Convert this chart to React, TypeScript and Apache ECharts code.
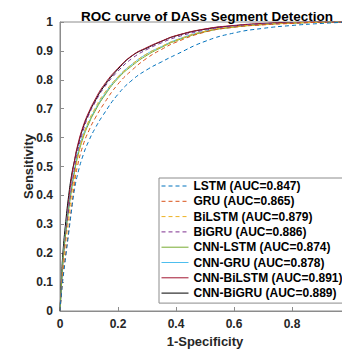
import React, { useEffect, useRef } from "react";
import * as echarts from "echarts";

const fpr = [0, 0.005, 0.01, 0.02, 0.03, 0.04, 0.05, 0.06, 0.08, 0.1, 0.12, 0.15, 0.2, 0.25, 0.3, 0.35, 0.4, 0.5, 0.6, 0.7, 0.8, 0.9, 1.0];

const lstm = [0, 0.06, 0.11, 0.19, 0.27, 0.35, 0.42, 0.47, 0.54, 0.59, 0.63, 0.68, 0.75, 0.8, 0.835, 0.862, 0.887, 0.933, 0.962, 0.978, 0.988, 0.995, 1];
const gru = [0, 0.06, 0.12, 0.2, 0.28, 0.36, 0.44, 0.5, 0.575, 0.625, 0.665, 0.715, 0.785, 0.835, 0.875, 0.905, 0.93, 0.965, 0.982, 0.99, 0.995, 0.999, 1];
const bilstm = [0, 0.07, 0.14, 0.24, 0.32, 0.4, 0.465, 0.525, 0.605, 0.66, 0.7, 0.75, 0.81, 0.855, 0.89, 0.915, 0.937, 0.968, 0.983, 0.991, 0.996, 0.999, 1];
const bigru = [0, 0.08, 0.15, 0.26, 0.35, 0.43, 0.495, 0.55, 0.625, 0.68, 0.72, 0.77, 0.83, 0.875, 0.905, 0.928, 0.947, 0.972, 0.986, 0.993, 0.997, 1, 1];
const cnnLstm = [0, 0.09, 0.17, 0.27, 0.35, 0.42, 0.48, 0.53, 0.6, 0.65, 0.69, 0.74, 0.805, 0.85, 0.885, 0.912, 0.935, 0.966, 0.982, 0.991, 0.996, 0.999, 1];
const cnnGru = [0, 0.09, 0.17, 0.28, 0.36, 0.43, 0.49, 0.54, 0.61, 0.655, 0.695, 0.745, 0.81, 0.855, 0.89, 0.915, 0.938, 0.968, 0.983, 0.992, 0.996, 0.999, 1];
const cnnBilstm = [0, 0.09, 0.17, 0.28, 0.38, 0.46, 0.52, 0.57, 0.64, 0.69, 0.73, 0.78, 0.84, 0.885, 0.912, 0.934, 0.953, 0.976, 0.988, 0.995, 0.998, 1, 1];
const cnnBigru = [0, 0.11, 0.2, 0.31, 0.4, 0.47, 0.52, 0.565, 0.635, 0.685, 0.725, 0.775, 0.837, 0.884, 0.91, 0.933, 0.952, 0.975, 0.987, 0.994, 0.998, 1, 1];

const seriesNames = [
  "LSTM (AUC=0.847)",
  "GRU (AUC=0.865)",
  "BiLSTM (AUC=0.879)",
  "BiGRU (AUC=0.886)",
  "CNN-LSTM (AUC=0.874)",
  "CNN-GRU (AUC=0.878)",
  "CNN-BiLSTM (AUC=0.891)",
  "CNN-BiGRU (AUC=0.889)",
];
const seriesData = [lstm, gru, bilstm, bigru, cnnLstm, cnnGru, cnnBilstm, cnnBigru];
const seriesColors = ["#0072BD", "#D95319", "#EDB120", "#7E2F8E", "#77AC30", "#4DBEEE", "#A2142F", "#000000"];
const seriesDashed = [true, true, true, true, false, false, false, false];

const FONT = "'Liberation Sans', Arial, sans-serif";

export default function App() {
  const ref = useRef<HTMLDivElement>(null);
  useEffect(() => {
    if (!ref.current) return;
    const chart = echarts.init(ref.current, undefined, { renderer: "svg" });
    const series = seriesNames.map((name, i) => ({
      name,
      type: "line",
      data: fpr.map((x, j) => [x, seriesData[i][j]]),
      smooth: 0.5,
      symbol: "none",
      showSymbol: false,
      z: 10 - i,
      lineStyle: {
        color: seriesColors[i],
        width: 1,
        type: seriesDashed[i] ? [4, 3] : "solid",
      },
      itemStyle: { color: seriesColors[i] },
    }));
    chart.setOption({
      animation: false,
      backgroundColor: "#ffffff",
      title: {
        text: "ROC curve of DASs Segment Detection",
        left: 76,
        top: 4,
        textStyle: { fontFamily: FONT, fontSize: 13.5, fontWeight: "bold", color: "#000" },
      },
      grid: {
        left: 60,
        top: 22,
        width: 290,
        height: 289,
        outerBoundsMode: "none",
        containLabel: false,
        show: true,
        borderColor: "#8c8c8c",
        borderWidth: 1,
      },
      legend: {
        orient: "vertical",
        left: 159,
        top: 178,
        padding: [2, 4, 4, 2],
        itemWidth: 27,
        itemHeight: 12,
        itemGap: 3.3,
        backgroundColor: "#ffffff",
        borderColor: "#8c8c8c",
        borderWidth: 1,
        borderRadius: 0,
        itemStyle: { opacity: 0 },
        lineStyle: { width: 1 },
        textStyle: { fontFamily: FONT, fontSize: 12, fontWeight: "bold", color: "#000" },
        data: seriesNames,
      },
      xAxis: {
        type: "value",
        min: 0,
        max: 1,
        interval: 0.2,
        name: "1-Specificity",
        nameLocation: "middle",
        nameGap: 24,
        nameMoveOverlap: false,
        nameTextStyle: { fontFamily: FONT, fontSize: 13, fontWeight: "bold", color: "#262626" },
        axisLine: { show: true, lineStyle: { color: "#8c8c8c" } },
        axisTick: { show: true, inside: true, length: 4, lineStyle: { color: "#8c8c8c" } },
        splitLine: { show: false },
        axisLabel: {
          fontFamily: FONT,
          fontSize: 12,
          fontWeight: "bold",
          color: "#262626",
          margin: 7,
          showMaxLabel: false,
          formatter: (v: number) => String(Math.round(v * 10) / 10),
        },
      },
      yAxis: {
        type: "value",
        min: 0,
        max: 1,
        interval: 0.1,
        name: "Sensitivity",
        nameLocation: "middle",
        nameGap: 25,
        nameMoveOverlap: false,
        nameTextStyle: { fontFamily: FONT, fontSize: 13, fontWeight: "bold", color: "#262626" },
        axisLine: { show: true, lineStyle: { color: "#8c8c8c" } },
        axisTick: { show: true, inside: true, length: 4, lineStyle: { color: "#8c8c8c" } },
        splitLine: { show: false },
        axisLabel: {
          fontFamily: FONT,
          fontSize: 12,
          fontWeight: "bold",
          color: "#262626",
          margin: 7,
          formatter: (v: number) => String(Math.round(v * 10) / 10),
        },
      },
      series,
    });
    return () => chart.dispose();
  }, []);
  return <div ref={ref} style={{ position: "fixed", left: 0, top: 0, width: 342, height: 351 }} />;
}
